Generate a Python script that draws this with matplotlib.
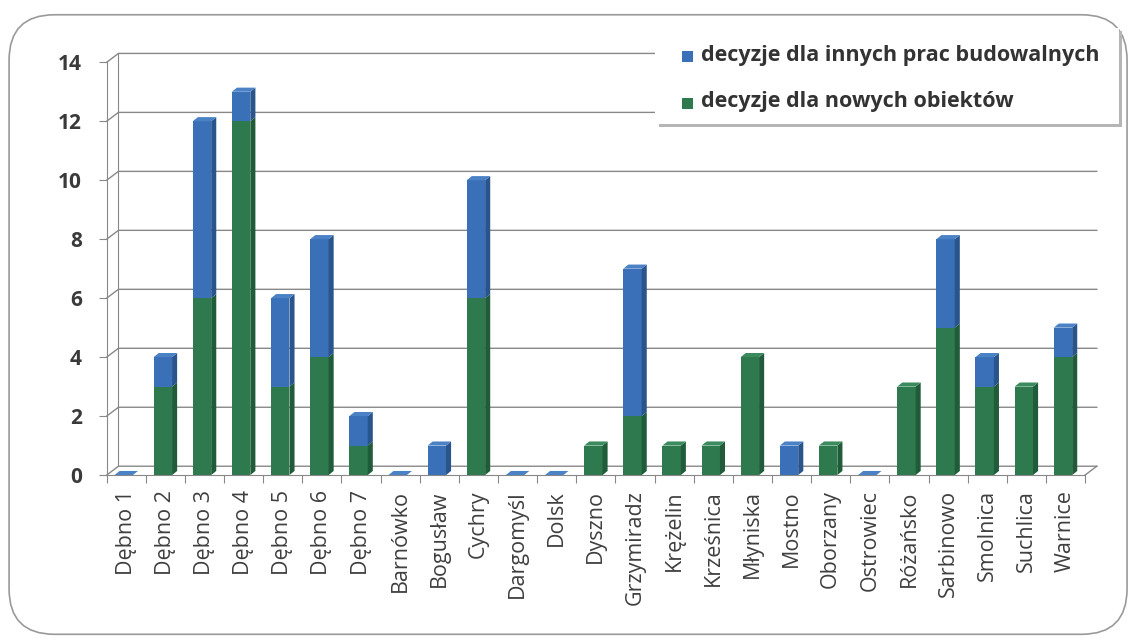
import matplotlib
matplotlib.use("Agg")
import matplotlib.pyplot as plt
from matplotlib.patches import Polygon, Rectangle, FancyBboxPatch
import numpy as np

categories = ["Dębno 1", "Dębno 2", "Dębno 3", "Dębno 4", "Dębno 5", "Dębno 6", "Dębno 7",
              "Barnówko", "Bogusław", "Cychry", "Dargomyśl", "Dolsk", "Dyszno", "Grzymiradz",
              "Krężelin", "Krześnica", "Młyniska", "Mostno", "Oborzany", "Ostrowiec",
              "Różańsko", "Sarbinowo", "Smolnica", "Suchlica", "Warnice"]
nowe = [0, 3, 6, 12, 3, 4, 1, 0, 0, 6, 0, 0, 1, 2, 1, 1, 4, 0, 1, 0, 3, 5, 3, 3, 4]
inne = [0, 1, 6, 1, 3, 4, 1, 0, 1, 4, 0, 0, 0, 5, 0, 0, 0, 1, 0, 0, 0, 3, 1, 0, 1]
yticks = [0, 2, 4, 6, 8, 10, 12, 14]
label_inne = "decyzje dla innych prac budowalnych"
label_nowe = "decyzje dla nowych obiektów"

plt.rcParams['font.family'] = ['Open Sans', 'DejaVu Sans']

GREEN, GREEN_S, GREEN_T = "#2e7a4e", "#215c3a", "#3b8b5e"
BLUE, BLUE_S, BLUE_T = "#3a70b8", "#2a548c", "#4b82c6"
GRID = "#888888"

fig = plt.figure(figsize=(11.35, 6.42), dpi=100)
# outer rounded frame
frame = FancyBboxPatch((0.008, 0.012), 0.985, 0.965, boxstyle="round,pad=0,rounding_size=0.04",
                       transform=fig.transFigure, facecolor="none", edgecolor="#9a9a9a",
                       linewidth=1.2, mutation_aspect=1135/642, zorder=-5)
fig.patches.append(frame)

ax = fig.add_axes([0.094, 0.26, 0.862, 0.643])
n = len(categories)
ax.set_xlim(-0.5, n - 0.5)
ax.set_ylim(0, 14)
ax.patch.set_alpha(0)

dxw, dyw = 0.3, 0.3   # wall depth offset
w = 0.47              # bar front width
sx, sy = 0.13, 0.14   # bar side depth

# back wall gridlines
for t in yticks:
    ax.plot([-0.5, -0.5 + dxw, n - 0.5 + dxw], [t, t + dyw, t + dyw], color=GRID, lw=1.0,
            clip_on=False, zorder=1)
# back wall left edge
ax.plot([-0.5 + dxw, -0.5 + dxw], [dyw, 14 + dyw], color=GRID, lw=0.8, clip_on=False, zorder=1)
# floor right edge
ax.plot([n - 0.5, n - 0.5 + dxw, n - 0.5 + dxw], [0, dyw, 0 + dyw], color=GRID, lw=1.0,
        clip_on=False, zorder=1)


def bar3d(x0, y0, h, cf, cs, ct, top):
    x1 = x0 + w
    if h > 0:
        ax.add_patch(Rectangle((x0, y0), w, h, facecolor=cf, edgecolor="none", zorder=3))
        ax.add_patch(Polygon([(x1, y0), (x1 + sx, y0 + sy), (x1 + sx, y0 + h + sy), (x1, y0 + h)],
                             closed=True, facecolor=cs, edgecolor="none", zorder=3))
    if top:
        ax.add_patch(Polygon([(x0, y0 + h), (x0 + sx, y0 + h + sy), (x1 + sx, y0 + h + sy), (x1, y0 + h)],
                             closed=True, facecolor=ct, edgecolor="none", zorder=4, clip_on=False))


for i in range(n):
    x0 = i - w / 2 - sx / 2
    g, b = nowe[i], inne[i]
    if g > 0:
        bar3d(x0, 0, g, GREEN, GREEN_S, GREEN_T, top=(b == 0))
    if b > 0 or g == 0:
        bar3d(x0, g, b, BLUE, BLUE_S, BLUE_T, top=True)

# axes styling
for s in ["top", "right"]:
    ax.spines[s].set_visible(False)
ax.spines["left"].set_color(GRID)
ax.spines["bottom"].set_color(GRID)
ax.spines["left"].set_zorder(2)
ax.set_yticks(yticks)
ax.set_yticklabels([str(t) for t in yticks], fontsize=15, fontweight="bold", color="#3a3a3a")
ax.tick_params(axis="y", length=6, color=GRID, pad=12)
ax.set_xticks(np.arange(-0.5, n, 1.0))
ax.set_xticklabels([])
ax.tick_params(axis="x", which="major", length=6, color=GRID)
ax.set_xticks(np.arange(n), minor=True)
ax.set_xticklabels(categories, minor=True, rotation=90, fontsize=15.5, color="#3f3f3f")
ax.tick_params(axis="x", which="minor", length=0, pad=11)

# legend
legfig = fig.add_axes([0.0, 0.0, 1.0, 1.0])
legfig.set_xlim(0, 1135)
legfig.set_ylim(642, 0)
legfig.axis("off")
legfig.add_patch(Rectangle((659, 31), 463, 96, facecolor="#b5b5b5", edgecolor="none", zorder=1))
legfig.add_patch(Rectangle((655, 28), 464, 96, facecolor="white", edgecolor="none", zorder=2))
legfig.add_patch(Rectangle((682, 51), 11, 11, facecolor=BLUE, edgecolor="none", zorder=3))
legfig.add_patch(Rectangle((682, 98), 11, 11, facecolor=GREEN, edgecolor="none", zorder=3))
legfig.text(701, 55, label_inne, fontsize=15.5, fontweight="bold", color="#333333", va="center", zorder=4)
legfig.text(701, 102, label_nowe, fontsize=15.5, fontweight="bold", color="#333333", va="center", zorder=4)

fig.savefig("out.png", dpi=100)
